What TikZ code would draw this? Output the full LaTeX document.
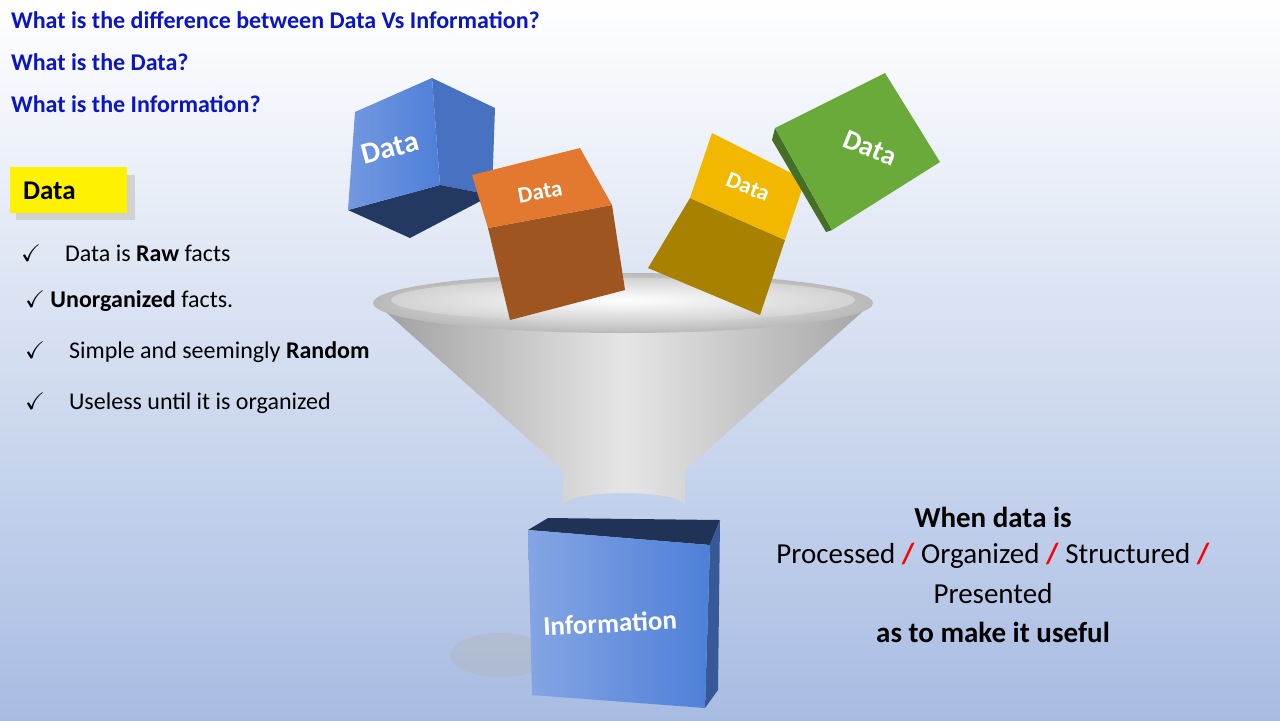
\documentclass[tikz,border=0pt]{standalone}
\usepackage{amssymb}
\usepackage{fontspec}
\setmainfont{Carlito}
\usetikzlibrary{positioning,shadows}
\definecolor{qblue}{HTML}{0A14C8}
\definecolor{bgblue}{HTML}{A8BCE2}
\definecolor{cubeblue}{HTML}{4F7FD8}
\definecolor{cubeorange}{HTML}{E2792E}
\definecolor{cubeyellow}{HTML}{F2B800}
\definecolor{cubegreen}{HTML}{6AAA3A}
\tikzset{
  qtext/.style={anchor=west,text=qblue,font=\fontsize{12}{14}\selectfont\bfseries},
  ltext/.style={anchor=west,font=\fontsize{12}{14}\selectfont},
  rtext/.style={font=\fontsize{14.5}{17}\selectfont},
  cubetext/.style={text=white,font=\bfseries}
}
\newcommand{\tick}{$\checkmark$}
\begin{document}
\begin{tikzpicture}[x=0.5pt,y=-0.5pt]
\shade[top color=white,bottom color=bgblue] (0,0) rectangle (1280,720);
\useasboundingbox (0,0) rectangle (1280,720);
% questions
\node[qtext] (q1) at (4,20) {What is the difference between Data Vs Information?};
\node[qtext] (q2) at (4,62) {What is the Data?};
\node[qtext] (q3) at (4,104) {What is the Information?};
% data box
\fill[gray!35] (16,175) rectangle (135,220);
\fill[yellow] (10,167) rectangle (127,213);
\node[anchor=west,font=\fontsize{13.5}{16}\selectfont\bfseries] (dlabel) at (16,191) {Data};
\node[ltext] (c1) at (14,253) {\tick\quad Data is \textbf{Raw} facts};
\node[ltext] (c2) at (18,301) {\tick\ \textbf{Unorganized} facts.};
\node[ltext] (c3) at (18,352) {\tick\quad Simple and seemingly \textbf{Random}};
\node[ltext] (c4) at (18,403) {\tick\quad Useless until it is organized};
% shadow of information cube
\fill[gray!60,opacity=0.35] (500,655) ellipse (50 and 22);
% funnel
\shade[left color=gray!75,right color=gray!70,middle color=gray!20] (378,305) -- (563,470) -- (563,505) arc (180:360:61 and 12) -- (685,470) -- (870,305) -- cycle;
\shade[inner color=white,outer color=gray!55] (623,303) ellipse (250 and 30);
\shade[inner color=white,outer color=gray!35] (623,300) ellipse (232 and 22);
% blue cube
\fill[cubeblue!90!black] (432,78) -- (495,108) -- (492,195) -- (440,185) -- cycle;
\fill[cubeblue!45!black] (348,210) -- (440,185) -- (492,195) -- (410,238) -- cycle;
\shade[left color=cubeblue!80!white,right color=cubeblue] (355,112) -- (432,78) -- (440,185) -- (348,210) -- cycle;
\node[cubetext,rotate=15,font=\fontsize{15}{17}\selectfont\bfseries] (d1) at (390,148) {Data};
% orange cube
\fill[cubeorange!70!black] (488,228) -- (612,205) -- (625,290) -- (510,320) -- cycle;
\fill[cubeorange] (472,175) -- (580,148) -- (612,205) -- (488,228) -- cycle;
\node[cubetext,rotate=10,font=\fontsize{11.5}{13}\selectfont\bfseries] (d2) at (540,192) {Data};
% yellow cube
\fill[cubeyellow!70!black] (648,268) -- (690,198) -- (785,240) -- (760,315) -- cycle;
\fill[cubeyellow] (690,198) -- (712,133) -- (805,180) -- (785,240) -- cycle;
\node[cubetext,rotate=-22,font=\fontsize{11.5}{13}\selectfont\bfseries] (d3) at (748,187) {Data};
% green cube
\fill[cubegreen!65!black] (775,128) -- (832,230) -- (826,232) -- (772,140) -- cycle;
\fill[cubegreen] (775,128) -- (885,73) -- (940,162) -- (832,230) -- cycle;
\node[cubetext,rotate=-22,font=\fontsize{14}{16}\selectfont\bfseries] (d4) at (870,148) {Data};
% information cube
\fill[cubeblue!40!black] (528,530) -- (548,518) -- (720,520) -- (710,545) -- cycle;
\fill[cubeblue!70!black] (710,545) -- (720,520) -- (718,690) -- (705,708) -- cycle;
\shade[left color=cubeblue!70!white,right color=cubeblue] (528,530) -- (710,545) -- (705,708) -- (532,695) -- cycle;
\node[cubetext,rotate=3,font=\fontsize{13.5}{16}\selectfont\bfseries] (info) at (610,623) {Information};
% right text
\node[rtext,font=\fontsize{14.5}{17}\selectfont\bfseries] (r1) at (993,517) {When data is};
\node[rtext] (r2) at (993,556) {Processed \textcolor{red}{\textbf{/}} Organized \textcolor{red}{\textbf{/}} Structured \textcolor{red}{\textbf{/}}};
\node[rtext] (r3) at (993,594) {Presented};
\node[rtext,font=\fontsize{14.5}{17}\selectfont\bfseries] (r4) at (993,632) {as to make it useful};
\end{tikzpicture}
\end{document}
